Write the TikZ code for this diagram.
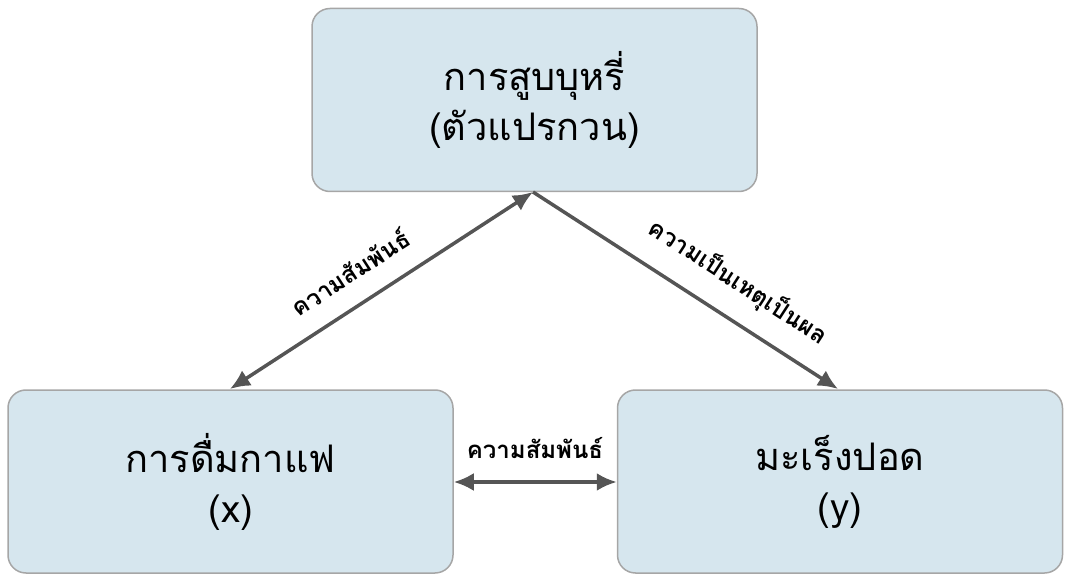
\documentclass[tikz,border=0pt]{standalone}
\usepackage{fontspec}
\newfontfamily\thaifont[Script=Thai]{Loma}
\usetikzlibrary{arrows.meta}
\begin{document}
\begin{tikzpicture}[x=1pt,y=-1pt,
  box/.style={draw=gray!70,line width=1.5pt,fill={rgb,255:red,214;green,230;blue,238},rounded corners=18pt,minimum width=445pt,minimum height=183pt,align=center,font=\thaifont\fontsize{38}{50}\selectfont},
  conn/.style={draw={rgb,255:red,85;green,85;blue,85},line width=3.5pt,-{Latex[length=20pt,width=18pt]}},
  dconn/.style={conn,{Latex[length=20pt,width=18pt]}-{Latex[length=20pt,width=18pt]}},
  lbl/.style={font=\thaifont\bfseries\fontsize{24}{28}\selectfont}]
\useasboundingbox (0,0) rectangle (1066,580);
\node[box] (c) at (534.5,100) {การสูบบุหรี่\\(ตัวแปรกวน)};
\node[box] (x) at (230.5,481.5) {การดื่มกาแฟ\\(x)};
\node[box] (y) at (840,481.5) {มะเร็งปอด\\(y)};
\coordinate (ct) at (533,192);
\coordinate (xt) at (230,389);
\coordinate (yt) at (838,389);
\draw[dconn] (xt) -- (ct);
\draw[conn] (ct) -- (yt);
\draw[dconn] (x.east |- 0,482) -- (y.west |- 0,482);
\node[lbl,rotate=33] at (350,272) {ความสัมพันธ์};
\node[lbl,rotate=-33] at (738,282) {ความเป็นเหตุเป็นผล};
\node[lbl] at (535,448) {ความสัมพันธ์};
\end{tikzpicture}
\end{document}
